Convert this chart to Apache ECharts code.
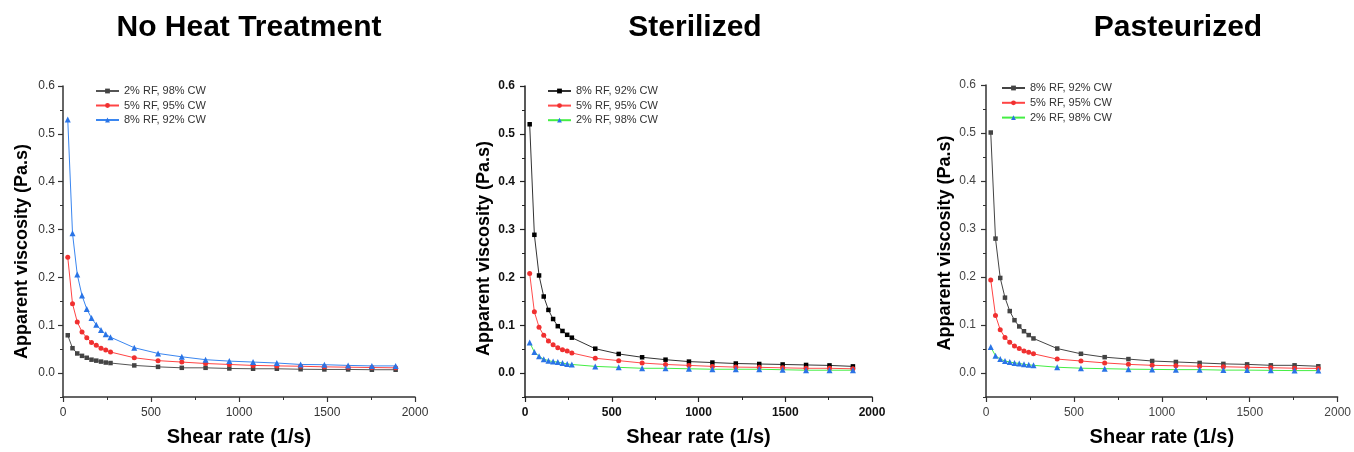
<!DOCTYPE html>
<html>
<head>
<meta charset="utf-8">
<title>Apparent viscosity vs shear rate</title>
<script src="https://cdn.jsdelivr.net/npm/echarts@6/dist/echarts.min.js"></script>
<style>
    html, body { margin: 0; padding: 0; background: #fff; }
    #main { width: 1354px; height: 452px; }
</style>
</head>
<body>
<div id="main"></div>
<script>
    // shear rate (1/s), shared by every curve
    var shearRate = [27, 54, 81, 108, 135, 162, 189, 216, 243, 270, 405, 540, 675, 810, 945, 1080, 1215, 1350, 1485, 1620, 1755, 1890];

    var panelTitles = ['No Heat Treatment', 'Sterilized', 'Pasteurized'];
    var xTicks = [0, 500, 1000, 1500, 2000];
    var yTicks = [0, 0.1, 0.2, 0.3, 0.4, 0.5, 0.6];
    var yMinorTicks = [-0.05, 0.05, 0.15, 0.25, 0.35, 0.45, 0.55];

    var label2 = '2% RF, 98% CW';
    var label5 = '5% RF, 95% CW';
    var label8 = '8% RF, 92% CW';

    // apparent viscosity (Pa.s) - no heat treatment
    var nht2 = [0.079, 0.052, 0.041, 0.036, 0.032, 0.028, 0.026, 0.024, 0.022, 0.021, 0.016, 0.013, 0.011, 0.011, 0.0096, 0.009, 0.009, 0.008, 0.0076, 0.0076, 0.007, 0.007];
    var nht5 = [0.242, 0.145, 0.107, 0.086, 0.074, 0.064, 0.058, 0.052, 0.048, 0.044, 0.032, 0.026, 0.023, 0.020, 0.018, 0.016, 0.015, 0.0143, 0.013, 0.0123, 0.0116, 0.011];
    var nht8 = [0.530, 0.292, 0.206, 0.162, 0.134, 0.115, 0.101, 0.090, 0.081, 0.075, 0.053, 0.041, 0.034, 0.028, 0.025, 0.023, 0.021, 0.018, 0.0175, 0.016, 0.015, 0.015];

    // sterilized
    var ster8 = [0.520, 0.289, 0.204, 0.160, 0.132, 0.113, 0.098, 0.088, 0.080, 0.074, 0.051, 0.040, 0.033, 0.028, 0.024, 0.022, 0.020, 0.019, 0.018, 0.017, 0.016, 0.014];
    var ster5 = [0.208, 0.128, 0.096, 0.079, 0.067, 0.059, 0.053, 0.049, 0.046, 0.042, 0.031, 0.026, 0.021, 0.018, 0.016, 0.014, 0.0125, 0.012, 0.011, 0.010, 0.010, 0.009];
    var ster2 = [0.064, 0.044, 0.035, 0.029, 0.026, 0.024, 0.023, 0.021, 0.019, 0.018, 0.014, 0.012, 0.010, 0.010, 0.009, 0.008, 0.008, 0.008, 0.007, 0.006, 0.006, 0.006];

    // pasteurized
    var past8 = [0.501, 0.280, 0.198, 0.157, 0.129, 0.110, 0.097, 0.087, 0.079, 0.072, 0.051, 0.040, 0.033, 0.029, 0.025, 0.023, 0.021, 0.019, 0.018, 0.016, 0.016, 0.014];
    var past5 = [0.194, 0.120, 0.090, 0.074, 0.064, 0.056, 0.051, 0.046, 0.043, 0.040, 0.029, 0.025, 0.021, 0.018, 0.016, 0.015, 0.014, 0.013, 0.012, 0.011, 0.010, 0.0096];
    var past2 = [0.054, 0.036, 0.029, 0.025, 0.023, 0.021, 0.020, 0.018, 0.017, 0.016, 0.012, 0.010, 0.009, 0.008, 0.0075, 0.007, 0.007, 0.006, 0.006, 0.0055, 0.005, 0.005];

    var font = "'Liberation Sans', Arial, sans-serif";

    // layout + look of each panel
    var panels = [
        {
            grid: {left: 63, top: 86, width: 352, height: 314},
            legend: {left: 95, top: 85, itemGap: 2.5},
            titleX: 249, nameShift: 20, yMargin: 8, bold: 'normal', tickColor: '#333', axisColor: '#333',
            curves: [
                {label: label2, data: nht2, line: '#555555', mark: '#444444', symbol: 'rect', size: 4.5},
                {label: label5, data: nht5, line: '#ff4444', mark: '#f03030', symbol: 'circle', size: 5},
                {label: label8, data: nht8, line: '#3a86f0', mark: '#2a74e6', symbol: 'triangle', size: 6}
            ]
        },
        {
            grid: {left: 525, top: 86, width: 347, height: 313},
            legend: {left: 547, top: 85, itemGap: 2.6},
            titleX: 695, nameShift: 14, yMargin: 10, bold: 'bold', tickColor: '#111', axisColor: '#222',
            curves: [
                {label: label8, data: ster8, line: '#333333', mark: '#000000', symbol: 'rect', size: 4.5},
                {label: label5, data: ster5, line: '#ff4c4c', mark: '#f03030', symbol: 'circle', size: 5},
                {label: label2, data: ster2, line: '#44ee44', mark: '#2a74e6', symbol: 'triangle', size: 6}
            ]
        },
        {
            grid: {left: 986, top: 85, width: 354, height: 316},
            legend: {left: 1001, top: 82, itemGap: 2.8},
            titleX: 1178, nameShift: 4, yMargin: 10, bold: 'normal', tickColor: '#444', axisColor: '#333',
            curves: [
                {label: label8, data: past8, line: '#444444', mark: '#444444', symbol: 'rect', size: 4.5},
                {label: label5, data: past5, line: '#ff4444', mark: '#f03030', symbol: 'circle', size: 5},
                {label: label2, data: past2, line: '#44ee44', mark: '#2a74e6', symbol: 'triangle', size: 6}
            ]
        }
    ];

    var titles = [], grids = [], xAxes = [], yAxes = [], legends = [], series = [];

    panels.forEach(function (p, i) {
        titles.push({
            text: panelTitles[i],
            left: p.titleX,
            top: 13,
            padding: 0,
            textAlign: 'center',
            textStyle: {fontFamily: font, fontSize: 30, fontWeight: 'bold', color: '#000'}
        });
        grids.push(p.grid);

        xAxes.push({
            gridIndex: i,
            type: 'value',
            min: 0,
            max: 2000,
            interval: 500,
            name: 'Shear rate (1/s)',
            nameLocation: 'middle',
            nameGap: 30,
            nameTextStyle: {fontFamily: font, fontSize: 20, fontWeight: 'bold', color: '#000'},
            axisLine: {onZero: false, lineStyle: {color: p.axisColor, width: 1.5}},
            axisTick: {length: 5, lineStyle: {color: p.axisColor, width: 1.2}},
            minorTick: {show: true, splitNumber: 2, length: 3, lineStyle: {color: p.axisColor, width: 1}},
            axisLabel: {
                fontFamily: font, fontSize: 12, fontWeight: p.bold, color: p.tickColor, margin: 10,
                customValues: xTicks,
                formatter: function (v) { return String(v); }
            },
            splitLine: {show: false}
        });

        // main y axis: line, labels, major ticks
        yAxes.push({
            gridIndex: i,
            type: 'value',
            position: 'left',
            min: -0.05,
            max: 0.6,
            name: 'Apparent viscosity (Pa.s)',
            nameLocation: 'middle',
            nameGap: 32,
            nameTextStyle: {fontFamily: font, fontSize: 18, fontWeight: 'bold', color: '#000', padding: [0, p.nameShift, 0, 0]},
            axisLine: {show: true, onZero: false, lineStyle: {color: p.axisColor, width: 1.5}},
            axisTick: {show: true, length: 5, customValues: yTicks, lineStyle: {color: p.axisColor, width: 1.2}},
            axisLabel: {
                fontFamily: font, fontSize: 12, fontWeight: p.bold, color: p.tickColor, margin: p.yMargin,
                customValues: yTicks,
                formatter: function (v) { return v.toFixed(1); }
            },
            splitLine: {show: false}
        });
    });

    // second y axis per grid, only for the short minor ticks
    panels.forEach(function (p, i) {
        yAxes.push({
            gridIndex: i,
            type: 'value',
            position: 'left',
            min: -0.05,
            max: 0.6,
            axisLine: {show: false, onZero: false},
            axisTick: {show: true, length: 3, customValues: yMinorTicks, lineStyle: {color: p.axisColor, width: 1}},
            axisLabel: {show: false},
            splitLine: {show: false}
        });
    });

    panels.forEach(function (p, i) {
        var names = [];
        p.curves.forEach(function (c) {
            var name = c.label + '#' + i;
            names.push(name);
            series.push({
                name: name,
                type: 'line',
                xAxisIndex: i,
                yAxisIndex: i,
                data: shearRate.map(function (x, k) { return [x, c.data[k]]; }),
                symbol: c.symbol,
                symbolSize: c.size,
                lineStyle: {color: c.line, width: 1},
                itemStyle: {color: c.mark},
                animation: false
            });
        });
        legends.push({
            data: names,
            orient: 'vertical',
            left: p.legend.left,
            top: p.legend.top,
            padding: 0,
            itemGap: p.legend.itemGap,
            itemWidth: 23,
            itemHeight: 6,
            selectedMode: false,
            formatter: function (name) { return name.split('#')[0]; },
            textStyle: {fontFamily: font, fontSize: 11, lineHeight: 12, color: '#333'}
        });
    });

    var myChart = echarts.init(document.getElementById('main'), null, {renderer: 'canvas'});
    var option = {
        backgroundColor: '#fff',
        animation: false,
        title: titles,
        grid: grids,
        xAxis: xAxes,
        yAxis: yAxes,
        legend: legends,
        series: series
    };
    myChart.setOption(option);
</script>
</body>
</html>
